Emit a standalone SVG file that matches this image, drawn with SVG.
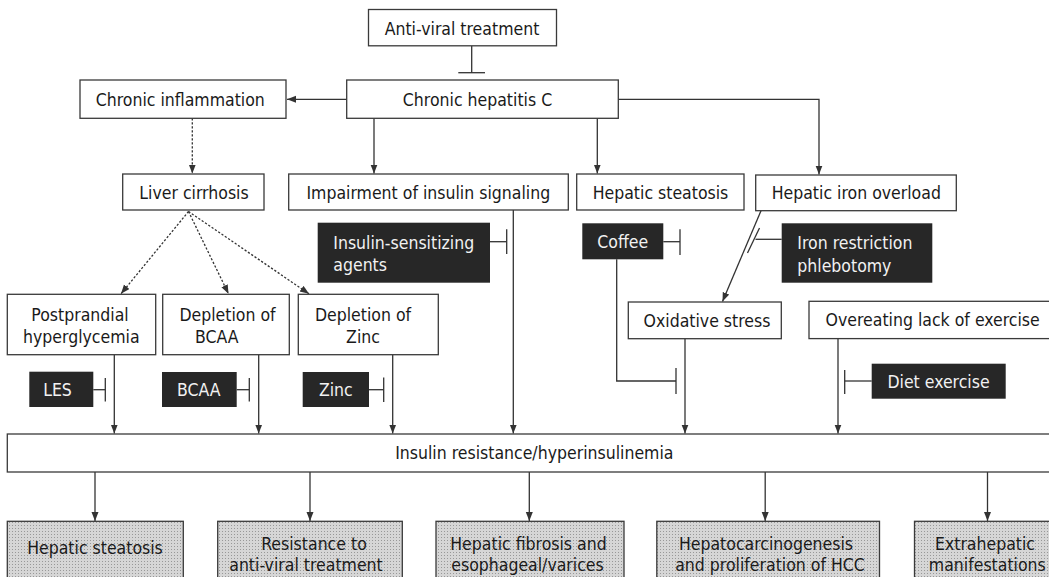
<svg xmlns="http://www.w3.org/2000/svg" width="1049" height="577" viewBox="0 0 1049 577">
<style>
.box{fill:#fff;stroke:#3a3a3a;stroke-width:1.3}
.dark{fill:#272727}
.grey{fill:url(#dots);stroke:#3a3a3a;stroke-width:1.3}
text{font-family:'DejaVu Sans Condensed','DejaVu Sans',sans-serif;font-stretch:condensed;font-size:17.5px;fill:#1a1a1a}
text.w{fill:#f2f2f2}
.c{text-anchor:middle}
.ln{stroke:#333;stroke-width:1.3;fill:none}
.arr{marker-end:url(#ah)}
.dot{stroke-dasharray:2.2 1.8}
</style>
<defs>
<marker id="ah" markerUnits="userSpaceOnUse" markerWidth="10" markerHeight="8" refX="9" refY="3.5" orient="auto">
<path d="M0,0 L9,3.5 L0,7 z" fill="#333"/>
</marker>
<pattern id="dots" width="3" height="3" patternUnits="userSpaceOnUse">
<rect width="3" height="3" fill="#d6d6d6"/>
<rect width="1" height="1" fill="#989898"/>
</pattern>
</defs>

<g id="connectors">
<line class="ln" x1="471.7" y1="45.7" x2="471.7" y2="72.7"/>
<line class="ln" x1="458.3" y1="72.7" x2="485" y2="72.7"/>
<line class="ln arr" x1="346.7" y1="99.3" x2="287" y2="99.3"/>
<line class="ln arr dot" x1="192.3" y1="118.3" x2="192.3" y2="173.5"/>
<line class="ln arr" x1="374" y1="118.3" x2="374" y2="173.5"/>
<line class="ln arr" x1="597.3" y1="118.3" x2="597.3" y2="173.5"/>
<path class="ln arr" d="M618.3,99.3 H819 V174.5"/>
<line class="ln arr dot" x1="188.5" y1="211.5" x2="121" y2="293.8"/>
<line class="ln arr dot" x1="188.5" y1="211.5" x2="228.5" y2="293.8"/>
<line class="ln arr dot" x1="188.5" y1="211.5" x2="309" y2="293.8"/>
<line class="ln arr" x1="114.3" y1="354.7" x2="114.3" y2="433.5"/>
<line class="ln arr" x1="258.7" y1="354.7" x2="258.7" y2="433.5"/>
<line class="ln arr" x1="392.7" y1="354.7" x2="392.7" y2="433.5"/>
<line class="ln arr" x1="513.3" y1="210" x2="513.3" y2="433.5"/>
<line class="ln arr" x1="685" y1="338.7" x2="685" y2="433.5"/>
<line class="ln arr" x1="838" y1="338.7" x2="838" y2="433.5"/>
<line class="ln arr" x1="761" y1="210.7" x2="722.5" y2="301.5"/>
<line class="ln" x1="490" y1="241.7" x2="506.7" y2="241.7"/>
<line class="ln" x1="506.7" y1="229.3" x2="506.7" y2="254"/>
<line class="ln" x1="663.3" y1="241.7" x2="680" y2="241.7"/>
<line class="ln" x1="680" y1="229.3" x2="680" y2="255"/>
<path class="ln" d="M616.7,259.3 V381 H676"/>
<line class="ln" x1="676" y1="368" x2="676" y2="394"/>
<line class="ln" x1="781.7" y1="239.3" x2="755.5" y2="239.3"/>
<line class="ln" x1="759.5" y1="228" x2="747.5" y2="253"/>
<line class="ln" x1="93.3" y1="389.7" x2="105.3" y2="389.7"/>
<line class="ln" x1="105.3" y1="378" x2="105.3" y2="401.5"/>
<line class="ln" x1="236.7" y1="389.7" x2="249.3" y2="389.7"/>
<line class="ln" x1="249.3" y1="378" x2="249.3" y2="401.5"/>
<line class="ln" x1="369" y1="389.7" x2="383.7" y2="389.7"/>
<line class="ln" x1="383.7" y1="377.5" x2="383.7" y2="402"/>
<line class="ln" x1="871.7" y1="381" x2="844.7" y2="381"/>
<line class="ln" x1="844.7" y1="370" x2="844.7" y2="394"/>
<line class="ln arr" x1="95" y1="472" x2="95" y2="521"/>
<line class="ln arr" x1="310" y1="472" x2="310" y2="521"/>
<line class="ln arr" x1="529.3" y1="472" x2="529.3" y2="521"/>
<line class="ln arr" x1="765.2" y1="472" x2="765.2" y2="521"/>
<line class="ln arr" x1="987.5" y1="472" x2="987.5" y2="521"/>
</g>

<g id="antiviral"><rect class="box" x="368.5" y="9.5" width="188" height="36.3"/><text class="c" x="462" y="34.5">Anti-viral treatment</text></g>
<g id="chc"><rect class="box" x="346.7" y="80" width="271.6" height="38.3"/><text class="c" x="477.5" y="106">Chronic hepatitis C</text></g>
<g id="inflammation"><rect class="box" x="80" y="80" width="206" height="38.3"/><text class="c" x="180.3" y="106">Chronic inflammation</text></g>
<g id="cirrhosis"><rect class="box" x="122.7" y="174" width="141.3" height="36"/><text class="c" x="194" y="198.5">Liver cirrhosis</text></g>
<g id="impairment"><rect class="box" x="288.7" y="174" width="279.6" height="36"/><text class="c" x="428.3" y="198.5">Impairment of insulin signaling</text></g>
<g id="steatosis1"><rect class="box" x="576.7" y="174" width="167.3" height="36"/><text class="c" x="660.5" y="198.5">Hepatic steatosis</text></g>
<g id="iron"><rect class="box" x="755.7" y="175" width="200.6" height="35.7"/><text class="c" x="856.3" y="199">Hepatic iron overload</text></g>
<g id="insulin-sens"><rect class="dark" x="317.7" y="222.7" width="172.3" height="60"/><text class="w" x="333.3" y="249">Insulin-sensitizing</text><text class="w" x="333.3" y="271">agents</text></g>
<g id="coffee"><rect class="dark" x="582.3" y="223.3" width="81" height="36"/><text class="w c" x="622.8" y="248">Coffee</text></g>
<g id="iron-restriction"><rect class="dark" x="781.7" y="223.3" width="150.6" height="59.4"/><text class="w" x="797.3" y="248.5">Iron restriction</text><text class="w" x="797.3" y="271.5">phlebotomy</text></g>
<g id="postprandial"><rect class="box" x="7.3" y="294.3" width="148.4" height="60.4"/><text class="c" x="80" y="320.5">Postprandial</text><text class="c" x="81.3" y="343">hyperglycemia</text></g>
<g id="depl-bcaa"><rect class="box" x="162.7" y="294.3" width="126.6" height="60.4"/><text class="c" x="227.5" y="320.5">Depletion of</text><text x="195" y="343">BCAA</text></g>
<g id="depl-zinc"><rect class="box" x="298.3" y="294.3" width="140" height="60.4"/><text class="c" x="363" y="320.5">Depletion of</text><text class="c" x="363" y="343">Zinc</text></g>
<g id="les"><rect class="dark" x="29.3" y="371.7" width="64" height="35.3"/><text class="w c" x="57.5" y="395.5">LES</text></g>
<g id="bcaa"><rect class="dark" x="162" y="372" width="74.7" height="35"/><text class="w c" x="198.8" y="395.5">BCAA</text></g>
<g id="zinc"><rect class="dark" x="302.7" y="372" width="66.3" height="35"/><text class="w c" x="335.8" y="395.5">Zinc</text></g>
<g id="oxidative"><rect class="box" x="628.3" y="302" width="153" height="36.7"/><text class="c" x="707" y="326.5">Oxidative stress</text></g>
<g id="overeating"><rect class="box" x="809" y="301.3" width="250" height="37.3"/><text class="c" x="932.7" y="326">Overeating lack of exercise</text></g>
<g id="diet"><rect class="dark" x="871.7" y="363.7" width="134" height="35"/><text class="w c" x="938.5" y="387.5">Diet exercise</text></g>
<g id="ir"><rect class="box" x="7.3" y="434" width="1052" height="38"/><text class="c" x="534.3" y="459">Insulin resistance/hyperinsulinemia</text></g>
<g id="out-steatosis"><rect class="grey" x="7.3" y="521.3" width="176" height="70"/><text class="c" x="95" y="554">Hepatic steatosis</text></g>
<g id="out-resistance"><rect class="grey" x="217.7" y="521.3" width="184.6" height="70"/><text class="c" x="314" y="550">Resistance to</text><text class="c" x="306" y="571">anti-viral treatment</text></g>
<g id="out-fibrosis"><rect class="grey" x="436" y="521.3" width="188" height="70"/><text class="c" x="528.5" y="550">Hepatic fibrosis and</text><text class="c" x="527.5" y="571">esophageal/varices</text></g>
<g id="out-hcc"><rect class="grey" x="656.8" y="521.3" width="222.7" height="70"/><text class="c" x="766" y="550">Hepatocarcinogenesis</text><text class="c" x="770" y="571">and proliferation of HCC</text></g>
<g id="out-extra"><rect class="grey" x="914.5" y="521.3" width="145" height="70"/><text class="c" x="985" y="550">Extrahepatic</text><text class="c" x="987.3" y="571">manifestations</text></g>
</svg>
